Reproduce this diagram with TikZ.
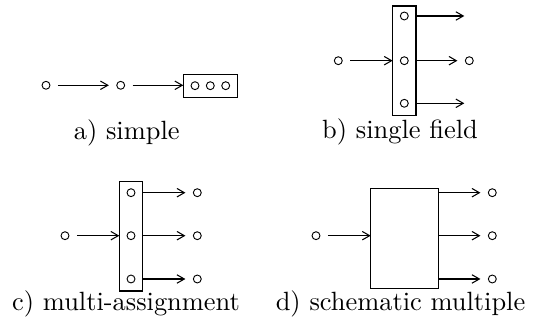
\documentclass[tikz,border=0pt]{standalone}
\usetikzlibrary{arrows.meta}
\begin{document}
\begin{tikzpicture}[x=0.3788pt,y=-0.3788pt,
  dot/.style={circle,draw,inner sep=0pt,minimum size=3pt,outer sep=3pt,line width=0.35pt},
  idot/.style={circle,draw,inner sep=0pt,minimum size=3pt,outer sep=0pt,line width=0.35pt},
  box/.style={draw,inner sep=0pt,outer sep=0pt,line width=0.45pt},
  conn/.style={-{Straight Barb[length=2.8pt,width=3.2pt,line width=0.4pt]},line width=0.45pt},
  captxt/.style={inner sep=0pt}]
\useasboundingbox (0,0) rectangle (538,327);
% a) simple
\node[dot] (a1) at (46,85.3) {};
\node[dot] (a2) at (120.7,85.3) {};
\node[box,minimum width=20.45pt,minimum height=8.56pt] (abox) at (210.3,86) {};
\node[idot] (ai1) at (195,85.7) {};
\node[idot] (ai2) at (210.3,85.7) {};
\node[idot] (ai3) at (225.7,85.7) {};
\draw[conn] (a1) -- (a2);
\draw[conn] (a2) -- (a2 -| abox.west);
\node[captxt] (capa) at (126.7,133.3) {a) simple};
% b) single field
\node[box,minimum width=8.83pt,minimum height=41.4pt] (bbox) at (404.3,60.7) {};
\node[idot] (bi1) at (404.3,16) {};
\node[idot] (bi2) at (404.3,60.7) {};
\node[idot] (bi3) at (404.3,103.3) {};
\node[dot] (bin) at (338.3,60.7) {};
\node[dot] (bout) at (469.3,60.7) {};
\coordinate (bt) at (464.3,16);
\coordinate (bb) at (464.3,103.3);
\draw[conn] (bin) -- (bin -| bbox.west);
\draw[conn] (bi1 -| bbox.east) -- (bt);
\draw[conn] (bi2 -| bbox.east) -- (bout);
\draw[conn] (bi3 -| bbox.east) -- (bb);
\node[captxt] (capb) at (400,131.7) {b) single field};
% c) multi-assignment
\node[box,minimum width=8.86pt,minimum height=41.4pt] (cbox) at (131,236.3) {};
\node[idot] (ci1) at (131,192.7) {};
\node[idot] (ci2) at (131,235.7) {};
\node[idot] (ci3) at (131,279) {};
\node[dot] (cin) at (65,235.7) {};
\node[dot] (co1) at (197.3,192.7) {};
\node[dot] (co2) at (197.3,235.7) {};
\node[dot] (co3) at (197.3,279) {};
\draw[conn] (cin) -- (cin -| cbox.west);
\draw[conn] (ci1 -| cbox.east) -- (co1);
\draw[conn] (ci2 -| cbox.east) -- (co2);
\draw[conn] (ci3 -| cbox.east) -- (co3);
\node[captxt] (capc) at (126,304.2) {c) multi-assignment};
% d) schematic multiple
\node[box,minimum width=25.6pt,minimum height=37.9pt] (dbox) at (404.5,238.3) {};
\node[dot] (din) at (316,235.7) {};
\node[dot] (do1) at (492.3,192.7) {};
\node[dot] (do2) at (492.3,235.7) {};
\node[dot] (do3) at (492.3,279) {};
\draw[conn] (din) -- (din -| dbox.west);
\draw[conn] (do1 -| dbox.east) -- (do1);
\draw[conn] (do2 -| dbox.east) -- (do2);
\draw[conn] (do3 -| dbox.east) -- (do3);
\node[captxt] (capd) at (400.5,303.7) {d) schematic multiple};
\end{tikzpicture}
\end{document}
